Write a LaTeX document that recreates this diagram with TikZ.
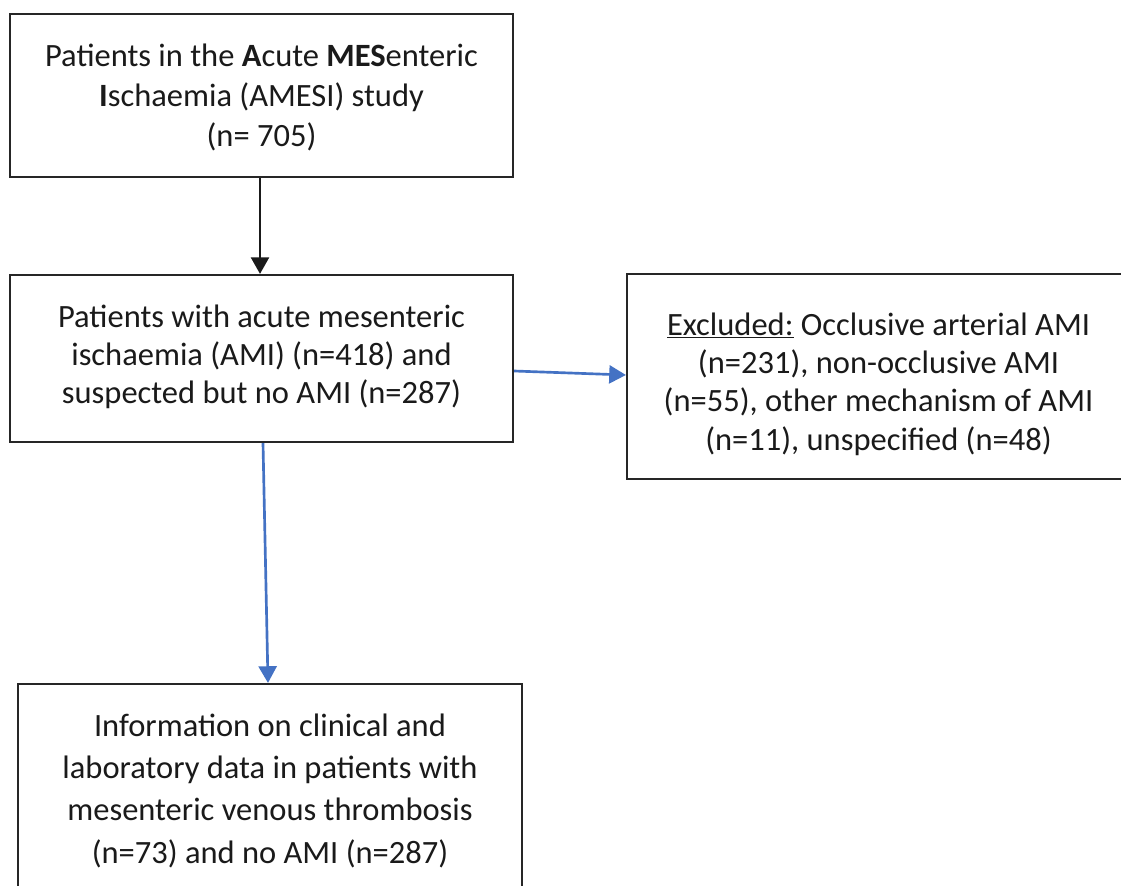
\documentclass[tikz,border=0pt]{standalone}
\usepackage{fontspec}
\setmainfont{Carlito}
\usetikzlibrary{arrows.meta}
\definecolor{arblue}{HTML}{4472C4}
\definecolor{boxline}{HTML}{262626}
\definecolor{txt}{HTML}{1A1A1A}
\begin{document}
\begin{tikzpicture}[x=0.6pt,y=-0.6pt,
  box/.style={draw=boxline,line width=1.3pt,align=center,inner sep=0pt,text=txt,text depth=0pt},
  blackarrow/.style={draw=txt,line width=1.6pt,-{Triangle[length=10pt,width=10.8pt]}},
  bluearrow/.style={draw=arblue,line width=1.6pt,-{Triangle[length=10pt,width=10.8pt]}}]
\useasboundingbox (0,0) rectangle (1121,885);
\fill[white] (0,0) rectangle (1121,885);
\node[box,minimum width=301.8pt,minimum height=97.8pt,
  font=\fontsize{19.5}{24}\selectfont,text height=61.8pt] (b1) at (261.5,95.5)
  {Patients in the \textbf{A}cute \textbf{MES}enteric\\\textbf{I}schaemia (AMESI) study\\(n= 705)};
\node[box,minimum width=301.8pt,minimum height=100.2pt,
  font=\fontsize{19.5}{22.8}\selectfont,text height=53.4pt] (b2) at (261.5,358.5)
  {Patients with acute mesenteric\\ischaemia (AMI) (n=418) and\\suspected but no AMI (n=287)};
\node[box,minimum width=301.8pt,minimum height=123pt,
  font=\fontsize{19.5}{23}\selectfont,text height=88.2pt] (b3) at (878.5,376.5)
  {\underline{Excluded:} Occlusive arterial AMI\\(n=231), non-occlusive AMI\\(n=55), other mechanism of AMI\\(n=11), unspecified (n=48)};
\node[box,minimum width=302.4pt,minimum height=129.6pt,
  font=\fontsize{19.5}{25.4}\selectfont,text height=85.2pt] (b4) at (270,792)
  {Information on clinical and\\laboratory data in patients with\\mesenteric venous thrombosis\\(n=73) and no AMI (n=287)};
\draw[blackarrow] (b1.south -| 260,0) -- (b2.north -| 260,0);
\draw[bluearrow] (b2.east |- 0,371) -- (b3.west |- 0,375);
\draw[bluearrow] (b2.south -| 263,0) -- (b4.north -| 268,0);
\end{tikzpicture}
\end{document}
